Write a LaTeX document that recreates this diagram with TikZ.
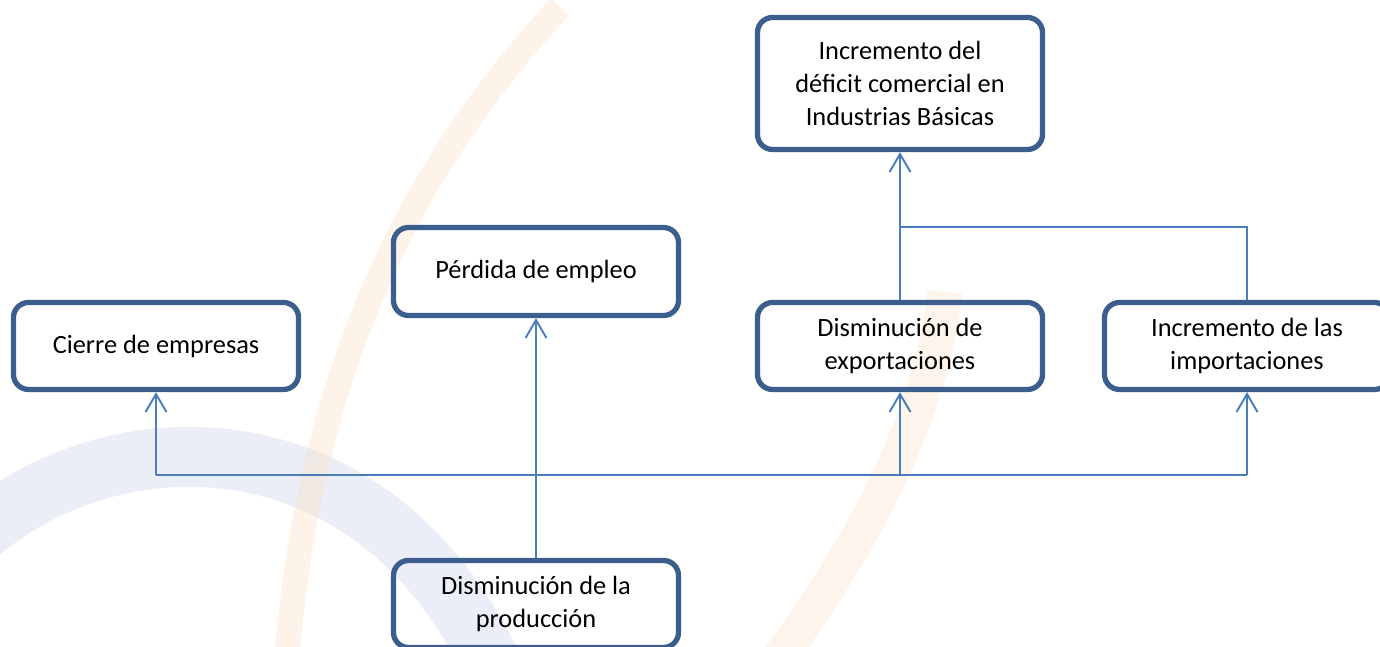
\documentclass[tikz,border=0pt]{standalone}
\usepackage{fontspec}
\setmainfont{Carlito}
\usepackage{xcolor}
\usepackage{tikz}
\usetikzlibrary{arrows.meta}

\definecolor{boxblue}{RGB}{59,94,141}
\definecolor{linkblue}{RGB}{74,126,187}
\definecolor{markorange}{RGB}{249,222,190}
\definecolor{markblue}{RGB}{228,231,244}

\begin{document}
\begin{tikzpicture}[
  box/.style={draw=boxblue, line width=3pt, rounded corners=0.3cm, align=center,
    minimum width=5.7cm, font=\fontsize{15}{19}\selectfont},
  link/.style={draw=linkblue, line width=1.1pt},
  tip/.style={-{Straight Barb[length=0.36cm, width=0.42cm, line width=1.1pt]}}
]
\useasboundingbox (0,0) rectangle (27.6,12.94);

% Watermark
\draw[markblue, line width=1.2cm, opacity=0.7] (-0.4,2.3) .. controls (2.5,4.7) and (7.5,4.5) .. (9.8,-0.3);
\draw[markorange, line width=0.5cm, opacity=0.35] (11.2,12.8) .. controls (8.2,9.6) and (6.2,5.5) .. (5.74,-0.2);
\draw[markorange, line width=0.7cm, opacity=0.3] (18.9,7.1) .. controls (18.6,4.5) and (17.2,2.0) .. (15.6,-0.2);

% Boxes
\node[box, minimum height=2.64cm] (deficit) at (18,11.27) {Incremento del\\d\'eficit comercial en\\Industrias B\'asicas};
\node[box, minimum height=1.76cm] (empleo) at (10.72,7.51) {P\'erdida de empleo};
\node[box, minimum height=1.74cm] (cierre) at (3.12,6.02) {Cierre de empresas};
\node[box, minimum height=1.74cm] (export) at (18,6.02) {Disminuci\'on de\\exportaciones};
\node[box, minimum height=1.74cm] (import) at (24.94,6.02) {Incremento de las\\importaciones};
\node[box, minimum height=1.74cm] (prod) at (10.72,0.86) {Disminuci\'on de la\\producci\'on};

% Connectors
\coordinate (bus) at (0,3.44);
\coordinate (join) at (0,8.4);
\draw[link] (prod.north) -- (prod.north |- bus);
\draw[link] (cierre.south |- bus) -- (import.south |- bus);
\foreach \n in {cierre,empleo,export,import}
  \draw[link, tip] (\n.south |- bus) -- (\n.south);
\draw[link, tip] (export.north) -- (deficit.south);
\draw[link] (import.north) |- (export.north |- join);

\end{tikzpicture}
\end{document}
